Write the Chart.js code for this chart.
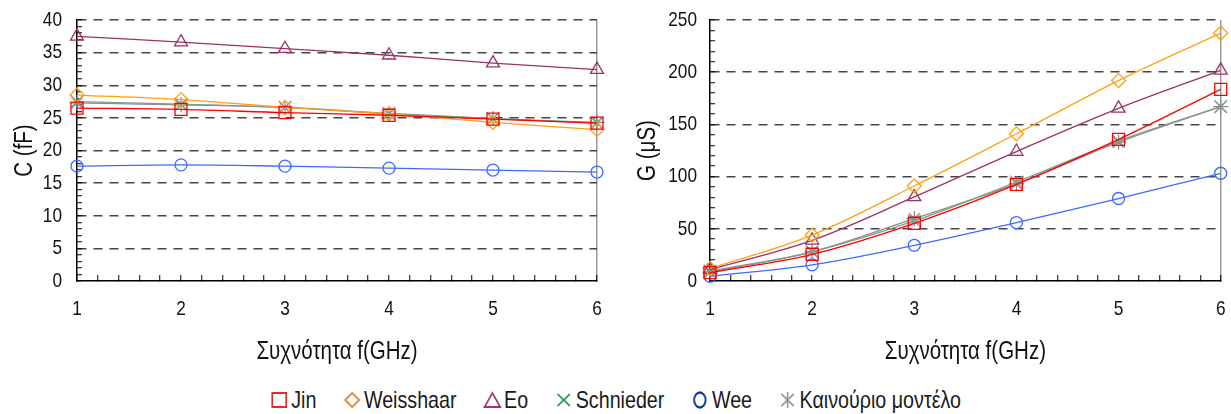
<!DOCTYPE html>
<html>
<head>
<meta charset="utf-8">
<script src="https://cdn.jsdelivr.net/npm/chart.js@4.4.0/dist/chart.umd.min.js"></script>
<style>
  body { margin: 0; background: #fff; width: 1231px; height: 414px; position: relative; overflow: hidden;
         font-family: "Liberation Sans", Arial, sans-serif; }
  #c1 { position: absolute; left: 0; top: 0; }
  #c2 { position: absolute; left: 615px; top: 0; }
  #legend { position: absolute; top: 386px; left: 0; width: 1231px; display: flex; justify-content: center;
            font-size: 24px; color: #1a1a1a; transform: scaleX(0.82); transform-origin: 615px 0; }
  .item { display: flex; align-items: center; margin: 0 16px; }
  .item svg { margin-right: 3px; }
</style>
</head>
<body>
<canvas id="c1" width="615" height="375"></canvas>
<canvas id="c2" width="616" height="375"></canvas>
<div id="legend"></div>
<script>
// frequencies in GHz
var freqs = [1, 2, 3, 4, 5, 6];
var names = ["Jin", "Weisshaar", "Eo", "Schnieder", "Wee", "Καινούριο μοντέλο"];

// capacitance C (fF)
var cJin       = [26.5, 26.3, 25.8, 25.4, 24.8, 24.2];
var cWeisshaar = [28.5, 27.8, 26.6, 25.6, 24.3, 23.2];
var cEo        = [37.5, 36.6, 35.6, 34.6, 33.4, 32.4];
var cSchnieder = [27.5, 27.1, 26.6, 25.7, 24.9, 24.2];
var cWee       = [17.6, 17.8, 17.6, 17.3, 17.0, 16.7];
var cNew       = [27.3, 27.0, 26.6, 25.6, 24.9, 24.3];

// conductance G (uS)
var gJin       = [8, 25.6, 55.3, 92.6, 135.7, 183.6];
var gWeisshaar = [12, 44, 91, 141, 192, 237.5];
var gEo        = [11, 39, 80.5, 124, 165.4, 201.8];
var gSchnieder = [9.5, 28, 57.5, 94.8, 134, 167];
var gWee       = [4.5, 15.5, 34.2, 56, 79, 103.2];
var gNew       = [8.5, 28, 59.8, 93, 133, 167];

var cTicks = [0, 5, 10, 15, 20, 25, 30, 35, 40];
var gTicks = [0, 50, 100, 150, 200, 250];

var colors  = ["#ff0000", "#ffa010", "#993366", "#849c8c", "#3d6bff", "#8c8c8c"];
var styles  = ["rect", "rectRot", "triangle", "crossRot", "circle", "star"];
var radii   = [8.5, 7, 7.5, 9, 6, 7.5];
var legendColors = ["#e8262b", "#e8822a", "#a8326e", "#2e9e5e", "#1e3c96", "#999999"];

var FONT = "'Liberation Sans', Arial, sans-serif";

// the original uses a narrow font: squeeze canvas text a little
function narrowText(canvas) {
  var ctx = canvas.getContext("2d");
  var orig = ctx.fillText.bind(ctx);
  ctx.fillText = function (t, x, y, mw) {
    var w = ctx.measureText(t).width * 0.82;
    if (!(w > 0)) return orig(t, x, y);
    orig(t, x, y, mw ? Math.min(mw, w) : w);
  };
}

function pts(arr) {
  return freqs.map(function (f, i) { return {x: f, y: arr[i]}; });
}

function makeSets(list) {
  return list.map(function (arr, i) {
    return {
      label: names[i],
      data: pts(arr),
      borderColor: colors[i],
      backgroundColor: "rgba(0,0,0,0)",
      borderWidth: 1.3,
      tension: 0.35,
      pointStyle: styles[i],
      pointRadius: radii[i],
      pointBorderColor: colors[i],
      pointBackgroundColor: "rgba(0,0,0,0)",
      pointBorderWidth: 1.3,
      clip: false
    };
  });
}

function isNear(v, list) {
  for (var k = 0; k < list.length; k++) {
    if (Math.abs(v - list[k]) < 1e-6) return true;
  }
  return false;
}

function noPad(s) {
  s.paddingTop = 0; s.paddingBottom = 0; s.paddingLeft = 0; s.paddingRight = 0;
}

function makeChart(id, sets, yTitle, yMax, yStep, yLabels, yWidth, yTitlePad, yLabelPad, rightPad) {
  var canvas = document.getElementById(id);
  narrowText(canvas);
  return new Chart(canvas, {
    type: "line",
    data: {datasets: sets},
    options: {
      responsive: false,
      animation: false,
      events: [],
      layout: {padding: {top: 20, right: rightPad, left: 0, bottom: 0}},
      plugins: {legend: {display: false}, tooltip: {enabled: false}},
      scales: {
        x: {
          type: "linear",
          min: 1, max: 6,
          border: {display: true, color: "#000", width: 1.5, dash: []},
          grid: {
            drawOnChartArea: true,
            color: function (ctx) {
              return (ctx.tick && Math.abs(ctx.tick.value - 6) < 1e-6) ? "#999" : "rgba(0,0,0,0)";
            },
            lineWidth: 1.5,
            tickLength: -6,
            tickColor: "#000",
            tickWidth: 1
          },
          ticks: {
            stepSize: 0.2,
            autoSkip: false,
            maxRotation: 0,
            padding: 22,
            color: "#111",
            font: {family: FONT, size: 21},
            callback: function (v) { return isNear(v, freqs) ? Math.round(v) : ""; }
          },
          title: {
            display: true,
            text: "Συχνότητα f(GHz)",
            color: "#111",
            font: {family: FONT, size: 25},
            padding: {top: 0, bottom: 8}
          },
          afterFit: function (s) { s.height = 94; noPad(s); }
        },
        y: {
          min: 0, max: yMax,
          border: {display: true, color: "#000", width: 1.5, dash: [9, 7]},
          grid: {
            color: function (ctx) {
              return (ctx.tick && ctx.tick.value > 0 && isNear(ctx.tick.value, yLabels)) ? "#444" : "rgba(0,0,0,0)";
            },
            lineWidth: 1.5,
            tickLength: -5,
            tickColor: "#000",
            tickWidth: 1,
            tickBorderDash: []
          },
          ticks: {
            stepSize: yStep,
            autoSkip: false,
            padding: yLabelPad,
            color: "#111",
            font: {family: FONT, size: 21},
            callback: function (v) { return isNear(v, yLabels) ? v : ""; }
          },
          title: {
            display: true,
            text: yTitle,
            color: "#111",
            font: {family: FONT, size: 25},
            padding: {top: yTitlePad, bottom: 0}
          },
          afterFit: function (s) { s.width = yWidth; noPad(s); }
        }
      }
    }
  });
}

makeChart("c1", makeSets([cJin, cWeisshaar, cEo, cSchnieder, cWee, cNew]),
  "C (fF)", 40, 1, cTicks, 77, 10, 20, 18);
makeChart("c2", makeSets([gJin, gWeisshaar, gEo, gSchnieder, gWee, gNew]),
  "G (μS)", 250, 10, gTicks, 95, 18, 18, 10);

// shared legend (drawn squeezed, so icons are made a bit wider)
var icons = [
  '<rect x="3" y="3" width="17" height="14" fill="none" stroke="C" stroke-width="2"/>',
  '<path d="M11.5 3 L20 10 L11.5 17 L3 10 Z" fill="none" stroke="C" stroke-width="2"/>',
  '<path d="M11.5 3 L21 17 L2 17 Z" fill="none" stroke="C" stroke-width="2"/>',
  '<path d="M4 4 L19 16 M19 4 L4 16" stroke="C" stroke-width="2"/>',
  '<ellipse cx="11.5" cy="10" rx="7" ry="7.5" fill="none" stroke="C" stroke-width="2.4"/>',
  '<path d="M11.5 2 L11.5 18 M4 4 L19 16 M19 4 L4 16" stroke="C" stroke-width="2"/>'
];
var legend = document.getElementById("legend");
names.forEach(function (n, i) {
  var d = document.createElement("div");
  d.className = "item";
  d.innerHTML = '<svg width="23" height="20">' + icons[i].replace(/C"/g, legendColors[i] + '"') + '</svg><span>' + n + '</span>';
  legend.appendChild(d);
});
</script>
</body>
</html>
